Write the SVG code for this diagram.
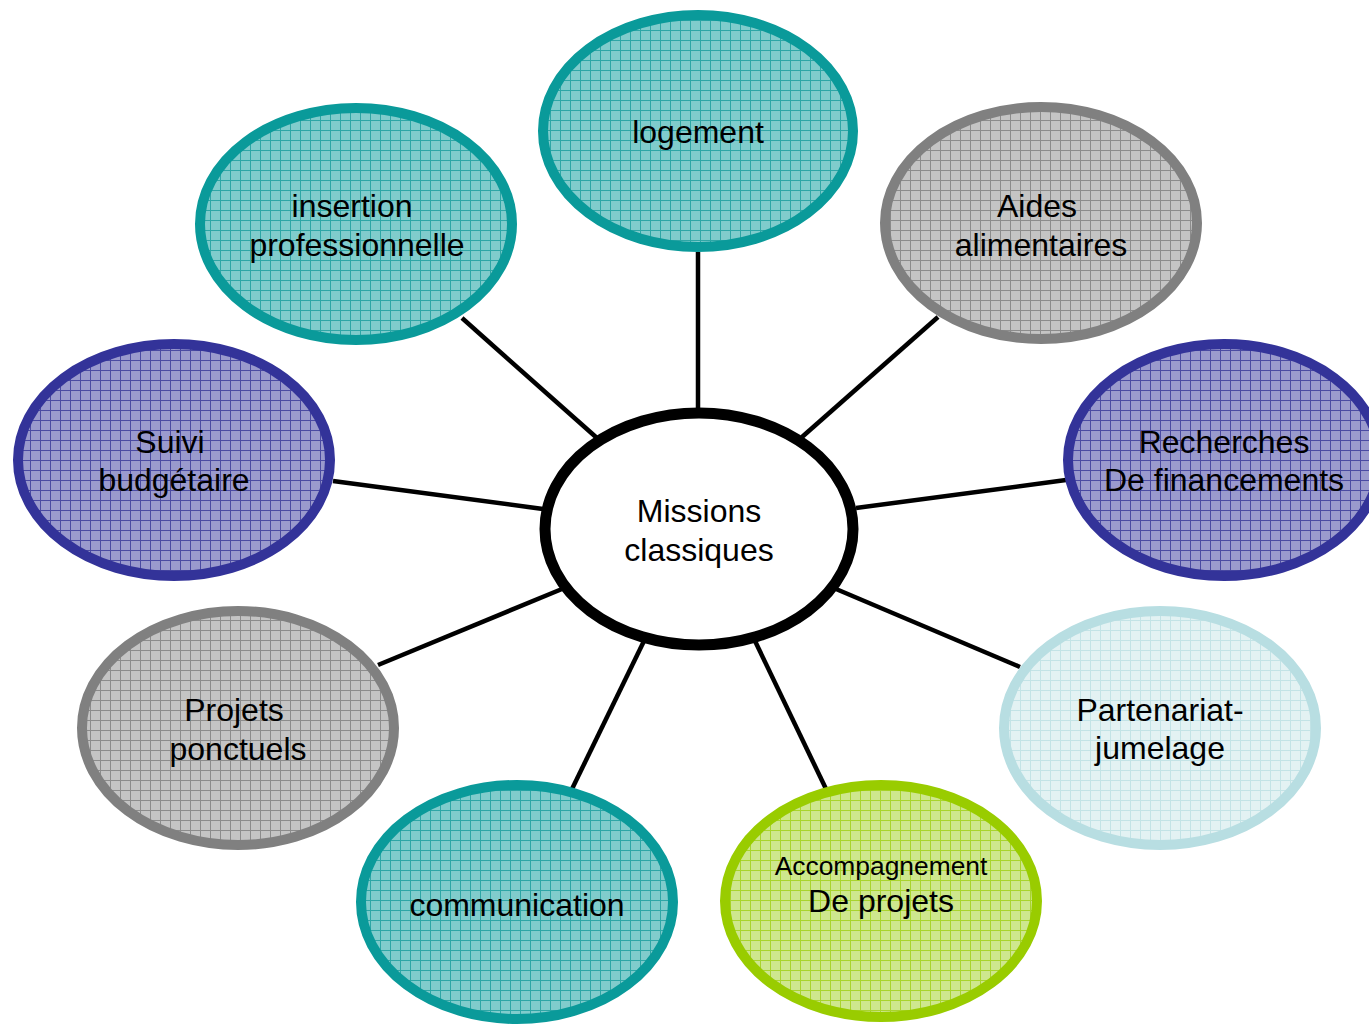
<svg xmlns="http://www.w3.org/2000/svg" width="1369" height="1024" viewBox="0 0 1369 1024">
<style>
text{font-family:"Liberation Sans",Arial,sans-serif;font-size:32px;fill:#000;text-anchor:middle}
.conn line{stroke:#000;stroke-width:4.5}
.n{stroke-width:10}
</style>
<defs>
<pattern id="pTeal" width="10" height="10" patternUnits="userSpaceOnUse"><rect width="10" height="10" fill="#80CCCC"/><path d="M0 0.5H10M0.5 0V10" stroke="#2EA6A6" stroke-width="1"/></pattern>
<pattern id="pGray" width="10" height="10" patternUnits="userSpaceOnUse"><rect width="10" height="10" fill="#C4C4C4"/><path d="M0 0.5H10M0.5 0V10" stroke="#8C8C8C" stroke-width="1"/></pattern>
<pattern id="pNavy" width="10" height="10" patternUnits="userSpaceOnUse"><rect width="10" height="10" fill="#9A9ACD"/><path d="M0 0.5H10M0.5 0V10" stroke="#4A4AA2" stroke-width="1"/></pattern>
<pattern id="pLight" width="10" height="10" patternUnits="userSpaceOnUse"><rect width="10" height="10" fill="#E3F2F3"/><path d="M0 0.5H10M0.5 0V10" stroke="#C3E3E6" stroke-width="1"/></pattern>
<pattern id="pGreen" width="10" height="10" patternUnits="userSpaceOnUse"><rect width="10" height="10" fill="#CEE78E"/><path d="M0 0.5H10M0.5 0V10" stroke="#A9D42E" stroke-width="1"/></pattern>
</defs>
<rect width="1369" height="1024" fill="#fff"/>
<g id="connectors" class="conn">
<line x1="698" y1="252" x2="698" y2="410"/>
<line x1="462" y1="318" x2="597" y2="438"/>
<line x1="938" y1="317" x2="802" y2="437"/>
<line x1="333" y1="481" x2="543" y2="509"/>
<line x1="856" y1="508" x2="1066" y2="480"/>
<line x1="378" y1="665" x2="562" y2="589"/>
<line x1="836" y1="589" x2="1020" y2="667"/>
<line x1="572" y1="789" x2="644" y2="641"/>
<line x1="755" y1="641" x2="827" y2="791"/>
</g>
<g id="logement"><ellipse class="n" cx="698" cy="131" rx="155" ry="116" fill="url(#pTeal)" stroke="#0A9A9A"/><text x="698" y="143">logement</text></g>
<g id="insertion"><ellipse class="n" cx="356" cy="224" rx="156" ry="116" fill="url(#pTeal)" stroke="#0A9A9A"/><text x="352" y="217">insertion</text><text x="357" y="256">professionnelle</text></g>
<g id="aides"><ellipse class="n" cx="1041" cy="223" rx="156" ry="116" fill="url(#pGray)" stroke="#808080"/><text x="1037" y="217">Aides</text><text x="1041" y="256">alimentaires</text></g>
<g id="suivi"><ellipse class="n" cx="174" cy="460" rx="156" ry="116" fill="url(#pNavy)" stroke="#333399"/><text x="170" y="453">Suivi</text><text x="174" y="491">budgétaire</text></g>
<g id="recherches"><ellipse class="n" cx="1224" cy="460" rx="156" ry="116" fill="url(#pNavy)" stroke="#333399"/><text x="1224" y="453">Recherches</text><text x="1224" y="491">De financements</text></g>
<g id="projets"><ellipse class="n" cx="238" cy="728" rx="156" ry="117" fill="url(#pGray)" stroke="#808080"/><text x="234" y="721">Projets</text><text x="238" y="760">ponctuels</text></g>
<g id="partenariat"><ellipse class="n" cx="1160" cy="728" rx="156" ry="117" fill="url(#pLight)" stroke="#B8DEE2"/><text x="1160" y="721">Partenariat-</text><text x="1160" y="759">jumelage</text></g>
<g id="communication"><ellipse class="n" cx="517" cy="902" rx="156" ry="117" fill="url(#pTeal)" stroke="#0A9A9A"/><text x="517" y="916">communication</text></g>
<g id="accompagnement"><ellipse class="n" cx="881" cy="901" rx="156" ry="116" fill="url(#pGreen)" stroke="#99CC00"/><text x="881" y="875" style="font-size:26.4px">Accompagnement</text><text x="881" y="912">De projets</text></g>
<g id="center"><ellipse cx="699" cy="529" rx="154" ry="116" fill="#fff" stroke="#000" stroke-width="11"/><text x="699" y="522">Missions</text><text x="699" y="561">classiques</text></g>
</svg>
